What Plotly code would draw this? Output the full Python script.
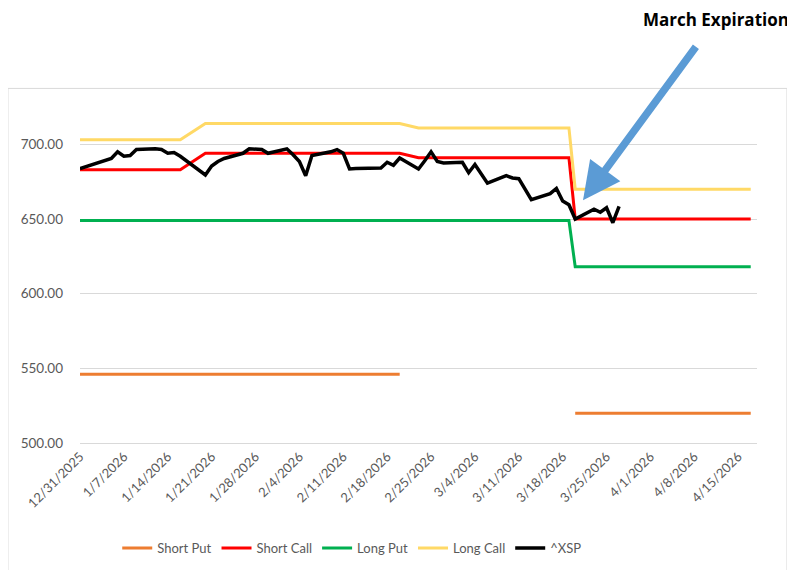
import plotly.graph_objects as go

# ---- data ----
xsp_dates = ["2025-12-31", "2026-01-02", "2026-01-05", "2026-01-06", "2026-01-07", "2026-01-08",
             "2026-01-09", "2026-01-12", "2026-01-13", "2026-01-14", "2026-01-15", "2026-01-16",
             "2026-01-20", "2026-01-21", "2026-01-22", "2026-01-23", "2026-01-26", "2026-01-27",
             "2026-01-28", "2026-01-29", "2026-01-30", "2026-02-02", "2026-02-03", "2026-02-04",
             "2026-02-05", "2026-02-06", "2026-02-09", "2026-02-10", "2026-02-11", "2026-02-12",
             "2026-02-13", "2026-02-17", "2026-02-18", "2026-02-19", "2026-02-20", "2026-02-23",
             "2026-02-24", "2026-02-25", "2026-02-26", "2026-02-27", "2026-03-02", "2026-03-03",
             "2026-03-04", "2026-03-05", "2026-03-06", "2026-03-09", "2026-03-10", "2026-03-11",
             "2026-03-12", "2026-03-13", "2026-03-16", "2026-03-17", "2026-03-18", "2026-03-19",
             "2026-03-20", "2026-03-23", "2026-03-24", "2026-03-25", "2026-03-26", "2026-03-27"]
xsp_values = [683.7, 686.5, 690.5, 695.0, 692.0, 692.5,
              696.5, 697.0, 696.5, 694.0, 694.5, 692.0,
              679.5, 685.5, 688.5, 690.5, 694.0, 697.0,
              697.0, 696.5, 694.0, 697.0, 693.0, 688.5,
              679.0, 692.5, 695.0, 696.5, 694.0, 683.5,
              683.8, 684.2, 688.0, 686.0, 690.8, 683.5,
              689.0, 695.0, 688.5, 687.5, 688.0, 681.0,
              686.5, 680.0, 674.0, 679.0, 677.5, 677.0,
              670.0, 663.0, 667.0, 670.5, 662.0, 659.5,
              650.0, 656.5, 654.5, 657.5, 647.5, 658.5]

# strike levels (breakpoints of each leg)
short_put_dates = ["2025-12-31", "2026-02-20", "2026-03-19", "2026-03-20", "2026-04-17"]
short_put_values = [546, 546, None, 520, 520]

short_call_dates = ["2025-12-31", "2026-01-16", "2026-01-20", "2026-02-20", "2026-02-23",
                    "2026-03-19", "2026-03-20", "2026-04-17"]
short_call_values = [683, 683, 694, 694, 691, 691, 650, 650]

long_put_dates = ["2025-12-31", "2026-03-19", "2026-03-20", "2026-04-17"]
long_put_values = [649, 649, 618, 618]

long_call_dates = ["2025-12-31", "2026-01-16", "2026-01-20", "2026-02-20", "2026-02-23",
                   "2026-03-19", "2026-03-20", "2026-04-17"]
long_call_values = [703, 703, 714, 714, 711, 711, 670, 670]

series_names = ["Short Put", "Short Call", "Long Put", "Long Call", "^XSP"]
series_colors = ["#ED7D31", "#FF0000", "#00B050", "#FFD966", "#000000"]

FONT = "Lato"
GREY = "#595959"

fig = go.Figure()
data = [
    (short_put_dates, short_put_values),
    (short_call_dates, short_call_values),
    (long_put_dates, long_put_values),
    (long_call_dates, long_call_values),
    (xsp_dates, xsp_values),
]
for (d, v), name, col in zip(data, series_names, series_colors):
    fig.add_trace(go.Scatter(
        x=d, y=v, name=name, mode="lines",
        line=dict(color=col, width=3.5 if name == "^XSP" else 3),
        connectgaps=False,
    ))

fig.update_layout(
    width=795, height=570,
    margin=dict(l=72, r=46, t=98.6, b=135, autoexpand=False),
    paper_bgcolor="white", plot_bgcolor="white",
    font=dict(family=FONT, size=13, color=GREY),
    showlegend=True,
    legend=dict(orientation="h", xref="container", yref="container",
                x=0.433, xanchor="center", y=0.0526, yanchor="middle",
                font=dict(family=FONT, size=13, color=GREY), itemwidth=30,
                traceorder="normal"),
    xaxis=dict(
        type="date", automargin=False,
        range=["2025-12-31", "2026-04-18"],
        tick0="2025-12-31", dtick=7 * 86400000,
        tickformat="%-m/%-d/%Y", tickangle=-45,
        showgrid=False, zeroline=False,
        showline=True, linecolor="#d9d9d9", linewidth=1,
        ticks="", tickfont=dict(family=FONT, size=13, color=GREY),
    ),
    yaxis=dict(
        range=[500, 725], tick0=500, dtick=50, tickformat=".2f",
        automargin=False,
        showgrid=True, gridcolor="#d9d9d9", gridwidth=1,
        zeroline=False, showline=False, ticks="",
        ticklabelstandoff=16,
        tickfont=dict(family=FONT, size=13.5, color=GREY),
    ),
)

# chart border
fig.add_shape(type="rect", xref="paper", yref="paper",
              x0=-0.1064, x1=1.0443, y0=-0.407, y1=1.0553,
              line=dict(color="#d9d9d9", width=1), fillcolor="rgba(0,0,0,0)", layer="below")

# annotation text
fig.add_annotation(xref="paper", yref="paper", x=0.939, y=1.260,
                   text="<b>March Expiration</b>", showarrow=False,
                   font=dict(family="Open Sans", size=17, color="#000000"),
                   xanchor="center", yanchor="middle")
# arrow
fig.add_annotation(xref="paper", yref="paper", x=0.743, y=0.7224,
                   axref="pixel", ayref="pixel", ax=114, ay=-155,
                   text="", showarrow=True, arrowhead=2, arrowsize=1,
                   arrowwidth=7.5, arrowcolor="#5B9BD5", standoff=0)

fig.write_html("out.html")
